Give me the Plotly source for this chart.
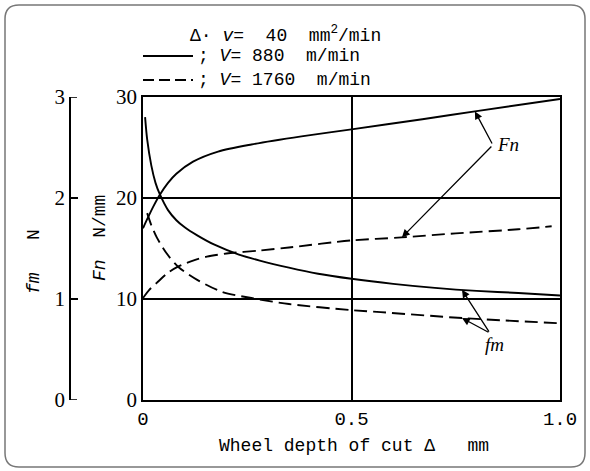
import plotly.graph_objects as go
import numpy as np

# ---------------- data ----------------
# Normal grinding force Fn [N/mm], V = 880 m/min (solid)
depth_fn880 = [0.0, 0.01, 0.024, 0.04, 0.06, 0.08, 0.12, 0.18, 0.26, 0.38, 0.5, 0.67, 0.8, 1.0]
fn880 = [17.0, 17.9, 19.1, 20.3, 21.5, 22.4, 23.6, 24.6, 25.3, 26.1, 26.8, 27.8, 28.6, 29.8]

# Normal grinding force Fn [N/mm], V = 1760 m/min (dashed)
depth_fn1760 = [0.0, 0.015, 0.033, 0.06, 0.084, 0.12, 0.153, 0.2, 0.28, 0.35, 0.5, 0.62, 0.75, 0.9, 0.98]
fn1760 = [10.1, 10.9, 11.6, 12.6, 13.2, 13.8, 14.2, 14.5, 14.8, 15.1, 15.8, 16.1, 16.5, 16.9, 17.2]

# Force per grain fm [N], V = 880 m/min (solid)
depth_fm880 = [0.005, 0.01, 0.02, 0.03, 0.04, 0.06, 0.08, 0.1, 0.13, 0.17, 0.23, 0.28, 0.35, 0.42, 0.5, 0.6, 0.7, 0.8, 0.9, 1.0]
fm880 = [2.80, 2.58, 2.32, 2.15, 2.04, 1.88, 1.78, 1.71, 1.63, 1.54, 1.44, 1.38, 1.31, 1.25, 1.20, 1.15, 1.11, 1.08, 1.06, 1.035]

# Force per grain fm [N], V = 1760 m/min (dashed)
depth_fm1760 = [0.01, 0.02, 0.033, 0.057, 0.084, 0.13, 0.19, 0.26, 0.35, 0.5, 0.57, 0.77, 1.0]
fm1760 = [1.85, 1.73, 1.61, 1.45, 1.32, 1.19, 1.07, 1.01, 0.95, 0.89, 0.87, 0.81, 0.76]

x_tickvals = [0, 0.5, 1.0]
x_ticktext = ["0", "0.5", "1.0"]
fn_ticks = [0, 10, 20, 30]
fm_ticks = [0, 1, 2, 3]

# ---------------- figure ----------------
W, H = 590, 471
L, R, T, B = 60, 30, 97, 71
PW, PH = W - L - R, H - T - B


def px(xp):
    return (xp - L) / PW


def py(yp):
    return (H - B - yp) / PH


DASH = "13px,6px"
fig = go.Figure()
fig.add_trace(go.Scatter(x=depth_fn880, y=fn880, mode="lines",
                         line=dict(color="black", width=1.9, shape="spline", smoothing=0.8)))
fig.add_trace(go.Scatter(x=depth_fn1760, y=fn1760, mode="lines",
                         line=dict(color="black", width=1.9, dash=DASH, shape="spline", smoothing=0.8)))
fig.add_trace(go.Scatter(x=depth_fm880, y=fm880, mode="lines", yaxis="y2",
                         line=dict(color="black", width=1.9, shape="spline", smoothing=0.8)))
fig.add_trace(go.Scatter(x=depth_fm1760, y=fm1760, mode="lines", yaxis="y2",
                         line=dict(color="black", width=1.9, dash=DASH, shape="spline", smoothing=0.8)))

TICKFONT = dict(family="Liberation Mono", size=19, color="black")
YFONT = dict(family="Liberation Serif", size=21, color="black")

fig.update_layout(
    width=W, height=H,
    margin=dict(l=L, r=R, t=T, b=B),
    paper_bgcolor="white", plot_bgcolor="white",
    showlegend=False,
    xaxis=dict(domain=[px(143), 1], range=[0, 1], showline=True, mirror=True,
               linecolor="black", linewidth=1.8, showgrid=True, gridcolor="black",
               gridwidth=1.5, zeroline=False, tickvals=x_tickvals, ticktext=x_ticktext,
               ticks="", tickfont=TICKFONT, fixedrange=True),
    yaxis=dict(range=[0, 30], showline=True, mirror=True, linecolor="black",
               linewidth=1.8, showgrid=True, gridcolor="black", gridwidth=1.5,
               zeroline=False, tickvals=fn_ticks, ticks="inside", ticklen=5,
               tickcolor="black", tickwidth=1.4, tickfont=YFONT, anchor="x"),
    yaxis2=dict(range=[0, 3], overlaying="y", anchor="free", position=px(70), side="left",
                showline=True, linecolor="black", linewidth=1.8, showgrid=False,
                zeroline=False, tickvals=fm_ticks, ticks="inside", ticklen=7,
                tickcolor="black", tickwidth=1.6, tickfont=YFONT),
)

TXT = dict(family="Liberation Mono", size=18, color="black")
C = dict(xanchor="center", yanchor="middle", showarrow=False)
annotations = []
# axis titles
annotations.append(dict(xref="paper", yref="paper", x=px(34), y=py(262), textangle=-90,
                        text="<i>fm</i>   N", font=TXT, **C))
annotations.append(dict(xref="paper", yref="paper", x=px(100), y=py(238), textangle=-90,
                        text="<i>Fn</i>  N/mm", font=TXT, **C))
annotations.append(dict(xref="paper", yref="paper", x=px(354), y=py(446),
                        text="Wheel depth of cut Δ   mm", font=TXT, **C))
# header / legend text
annotations.append(dict(xref="paper", yref="paper", x=px(188), y=py(34), xanchor="left",
                        yanchor="middle", showarrow=False,
                        text="Δ· <i>v</i>=  40  mm<sup>2</sup>/min", font=TXT))
annotations.append(dict(xref="paper", yref="paper", x=px(196), y=py(56), xanchor="left",
                        yanchor="middle", showarrow=False,
                        text="; <i>V</i>= 880  m/min", font=TXT))
annotations.append(dict(xref="paper", yref="paper", x=px(196), y=py(80), xanchor="left",
                        yanchor="middle", showarrow=False,
                        text="; <i>V</i>= 1760  m/min", font=TXT))

# Fn callouts
fn_vx, fn_vy = 0.839, 25.25
for xd, xs, ys in [(0.796, depth_fn880, fn880), (0.621, depth_fn1760, fn1760)]:
    annotations.append(dict(x=xd, y=float(np.interp(xd, xs, ys)), xref="x", yref="y",
                            ax=fn_vx, ay=fn_vy, axref="x", ayref="y", text="",
                            showarrow=True, arrowhead=2, arrowsize=1.2, arrowwidth=1.3,
                            arrowcolor="black"))
annotations.append(dict(x=fn_vx + 0.004, y=fn_vy, xref="x", yref="y", xanchor="left",
                        yanchor="middle", text="<i>Fn</i>", showarrow=False,
                        font=dict(family="Liberation Serif", size=19, color="black")))
# fm callouts
fm_vx, fm_vy = 0.832, 0.663
for xd, xs, ys in [(0.765, depth_fm880, fm880), (0.765, depth_fm1760, fm1760)]:
    annotations.append(dict(x=xd, y=float(np.interp(xd, xs, ys)), xref="x", yref="y2",
                            ax=fm_vx, ay=fm_vy, axref="x", ayref="y2", text="",
                            showarrow=True, arrowhead=2, arrowsize=1.2, arrowwidth=1.3,
                            arrowcolor="black"))
annotations.append(dict(x=0.844, y=0.545, xref="x", yref="y2", xanchor="center",
                        yanchor="middle", text="<i>fm</i>", showarrow=False,
                        font=dict(family="Liberation Serif", size=19, color="black")))
fig.update_layout(annotations=annotations)

# rounded outer border
x0, y0, x1, y1, r = px(5), py(5), px(585), py(467), 14
rx, ry = r / PW, r / PH
path = (f"M {x0+rx},{y0} L {x1-rx},{y0} Q {x1},{y0} {x1},{y0-ry} "
        f"L {x1},{y1+ry} Q {x1},{y1} {x1-rx},{y1} L {x0+rx},{y1} "
        f"Q {x0},{y1} {x0},{y1+ry} L {x0},{y0-ry} Q {x0},{y0} {x0+rx},{y0} Z")
shapes = [
    dict(type="path", xref="paper", yref="paper", path=path,
         line=dict(color="#777777", width=1.5)),
    dict(type="line", xref="paper", yref="paper", x0=px(143), x1=px(193), y0=py(56), y1=py(56),
         line=dict(color="black", width=1.8)),
    dict(type="line", xref="paper", yref="paper", x0=px(143), x1=px(193), y0=py(80), y1=py(80),
         line=dict(color="black", width=1.8, dash="11px,5px")),
]
# short tick marks pointing right from the fm axis
for t in fm_ticks:
    shapes.append(dict(type="line", xref="paper", yref="y2", x0=px(70), x1=px(77), y0=t, y1=t,
                       line=dict(color="black", width=1.6)))
fig.update_layout(shapes=shapes)

fig.write_html("out.html", post_script="document.body.style.margin='0px';",
               config={"displayModeBar": False})
